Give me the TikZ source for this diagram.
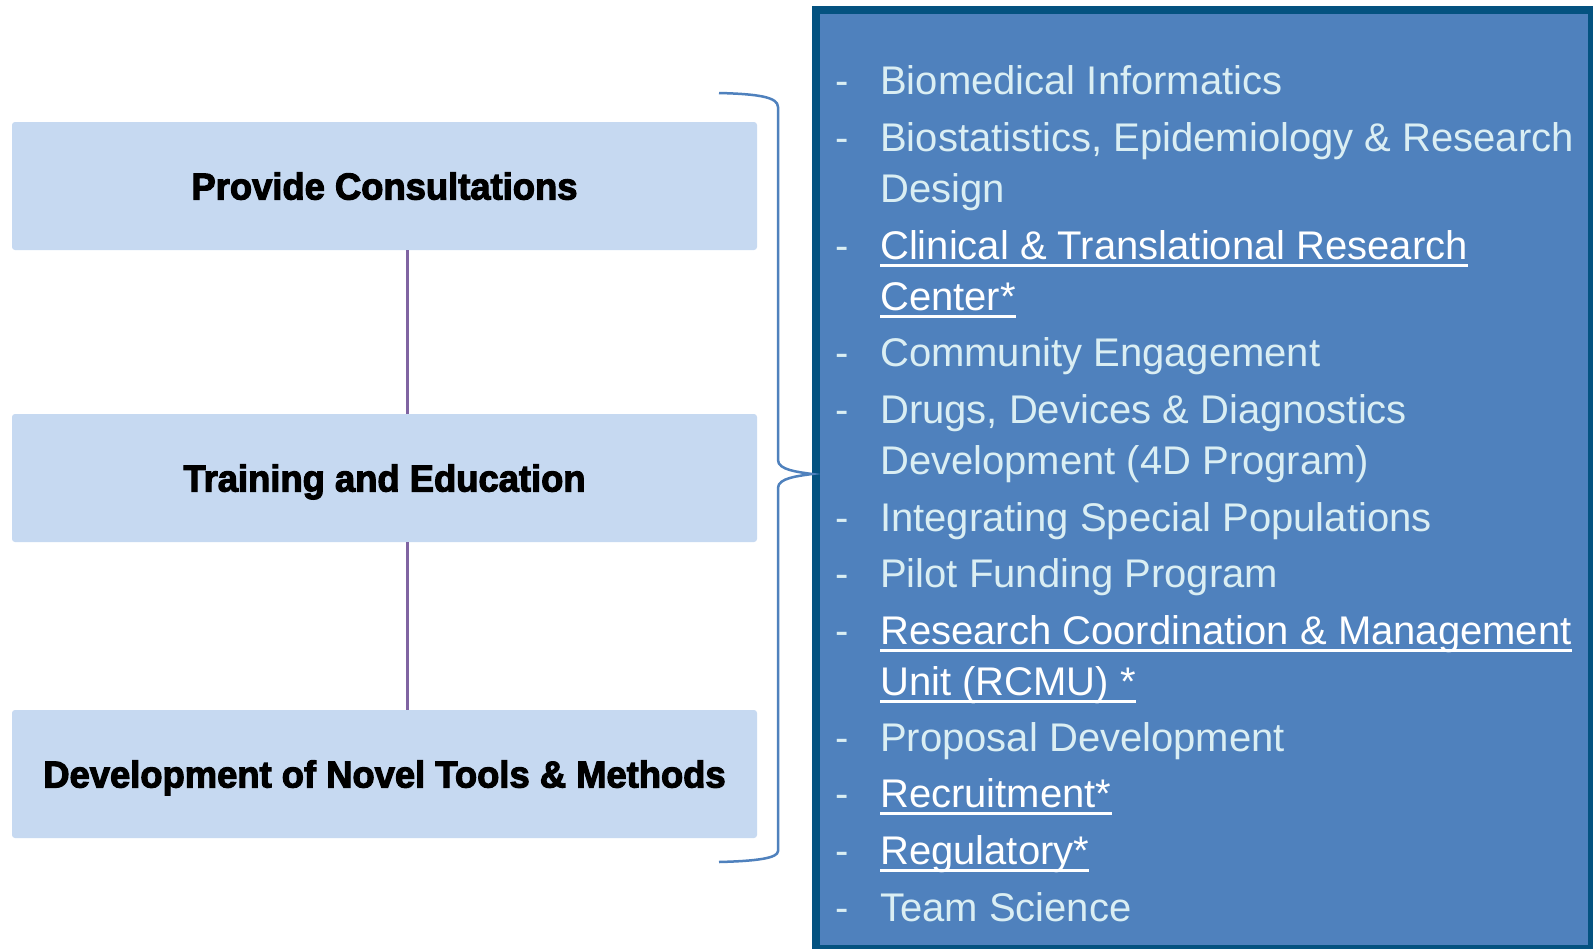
\documentclass[tikz,border=0pt]{standalone}
\usepackage{fontspec}
\setmainfont{Liberation Sans}
\newfontfamily\headfont{Liberation Sans}[FakeStretch=0.97, BoldFeatures={FakeBold=3}]
\definecolor{lightbox}{RGB}{198,217,241}
\definecolor{panelfill}{RGB}{79,129,189}
\definecolor{panelborder}{RGB}{4,82,128}
\definecolor{itemtxt}{RGB}{218,238,243}
\definecolor{connpurple}{RGB}{128,100,162}
\definecolor{braceblue}{RGB}{79,129,189}
\tikzset{
  lbox/.style={fill=lightbox, rounded corners=3pt, minimum width=745pt, minimum height=128pt, inner sep=0pt,
    text height=27pt, text depth=0pt,
    font=\headfont\bfseries\fontsize{37.5}{44}\selectfont, text=black},
  item/.style={anchor=base west, inner sep=0pt, font=\fontsize{40}{48}\selectfont, text=itemtxt},
  linkitem/.style={item, text=white},
  dashmark/.style={anchor=base west, inner sep=0pt, font=\fontsize{40}{48}\selectfont, text=itemtxt},
  uline/.style={draw=white, line width=2.5pt},
  conn/.style={draw=connpurple, line width=3pt},
  bracepath/.style={draw=braceblue, line width=2.5pt},
  panelbox/.style={draw=panelborder, fill=panelfill, line width=8pt, minimum width=776pt, minimum height=939pt, inner sep=0pt}
}
\begin{document}
\begin{tikzpicture}[x=1pt,y=-1pt]
\useasboundingbox (0,0) rectangle (1593,948);
\fill[white] (0,0) rectangle (1593,948);
\clip (0,0) rectangle (1593,948);

% left boxes
\node[lbox] (b1) at (384.5,186) {Provide Consultations};
\node[lbox] (b2) at (384.5,478) {Training and Education};
\node[lbox] (b3) at (384.5,774) {Development of Novel Tools \& Methods};

\draw[conn] ([xshift=22.5pt]b1.south) -- ([xshift=22.5pt]b2.north);
\draw[conn] ([xshift=22.5pt]b2.south) -- ([xshift=22.5pt]b3.north);

% right panel
\node[panelbox] (panel) at (1204,479.5) {};
\coordinate (tip) at (812,474);

% brace
\draw[bracepath] (719,93) .. controls (758,94) and (778,97) .. (778,107)
  -- (778,460) .. controls (778,470) and (798,472) .. (tip)
  .. controls (798,476) and (778,478) .. (778,488)
  -- (778,851) .. controls (778,858) and (758,861) .. (719,862);

% dashes
\foreach \y/\n in {94/d1,151/d2,259/d3,366/d4,423/d5,531/d6,587/d7,644/d8,751/d9,807/d10,864/d11,921/d12}
  \node[dashmark] (\n) at (835,\y) {-};

% items
\node[item] (t1) at (880,94) {Biomedical Informatics};
\node[item] (t2a) at (880,151) {Biostatistics, Epidemiology \& Research};
\node[item] (t2b) at (880,202) {Design};
\node[linkitem] (t3a) at (880,259) {Clinical \& Translational Research};
\node[linkitem] (t3b) at (880,310) {Center*};
\node[item] (t4) at (880,366) {Community Engagement};
\node[item] (t5a) at (880,423) {Drugs, Devices \& Diagnostics};
\node[item] (t5b) at (880,474) {Development (4D Program)};
\node[item] (t6) at (880,531) {Integrating Special Populations};
\node[item] (t7) at (880,587) {Pilot Funding Program};
\node[linkitem] (t8a) at (880,644) {Research Coordination \& Management};
\node[linkitem] (t8b) at (880,695) {Unit (RCMU) *};
\node[item] (t9) at (880,751) {Proposal Development};
\node[linkitem] (t10) at (880,807) {Recruitment*};
\node[linkitem] (t11) at (880,864) {Regulatory*};
\node[item] (t12) at (880,921) {Team Science};

% underlines
\foreach \n in {t3a,t3b,t8a,t8b,t10,t11}
  \draw[uline] ([yshift=-6.5pt]\n.base west) -- ([yshift=-6.5pt]\n.base east);
\end{tikzpicture}
\end{document}
